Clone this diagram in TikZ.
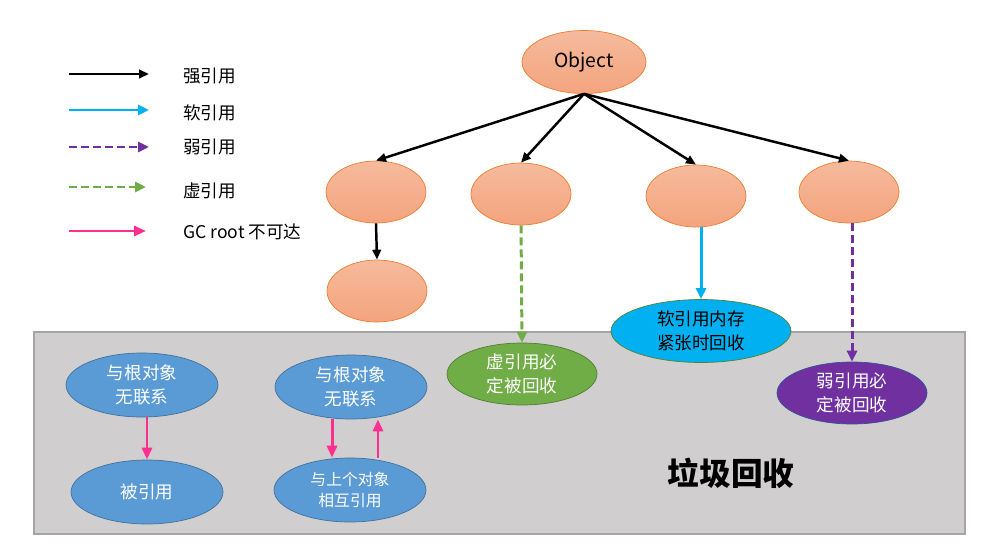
\documentclass[tikz,border=0pt]{standalone}
\usepackage{fontspec}
\setmainfont{Noto Sans CJK SC}
\usetikzlibrary{shapes.geometric,arrows.meta}

\definecolor{peachtop}{HTML}{F5BA9C}
\definecolor{peachbot}{HTML}{F4A47E}
\definecolor{peachline}{HTML}{ED7D31}
\definecolor{gcgray}{HTML}{D0CECE}
\definecolor{gcline}{HTML}{A5A5A5}
\definecolor{nodeblue}{HTML}{5B9BD5}
\definecolor{blueline}{HTML}{41719C}
\definecolor{phantomgreen}{HTML}{70AD47}
\definecolor{greenline}{HTML}{507E32}
\definecolor{softcyan}{HTML}{00B0F0}
\definecolor{cyanline}{HTML}{548235}
\definecolor{weakpurple}{HTML}{7030A0}
\definecolor{purpleline}{HTML}{2F5597}
\definecolor{gcpink}{HTML}{FF2F92}

\begin{document}
\begin{tikzpicture}[x=0.02cm,y=-0.02cm,
  objnode/.style={ellipse, draw=peachline, top color=peachtop, bottom color=peachbot, inner sep=0pt, minimum width=2cm, minimum height=1.24cm},
  gcnode/.style={ellipse, draw=blueline, fill=nodeblue, text=white, inner sep=0pt, align=center, minimum width=3.04cm, minimum height=1.28cm, font=\fontsize{10}{13.5}\selectfont},
  strong/.style={draw=black, line width=1.4pt, -{Triangle[length=0.2cm,width=0.17cm]}},
  soft/.style={draw=softcyan, line width=1.7pt, -{Triangle[length=0.22cm,width=0.2cm]}},
  weak/.style={draw=weakpurple, line width=1.7pt, dash pattern=on 0.16cm off 0.08cm, -{Triangle[length=0.22cm,width=0.2cm]}},
  phantom/.style={draw=phantomgreen, line width=1.7pt, dash pattern=on 0.16cm off 0.08cm, -{Triangle[length=0.22cm,width=0.2cm]}},
  unreach/.style={draw=gcpink, line width=1.7pt, -{Triangle[length=0.24cm,width=0.2cm]}},
  legendtext/.style={anchor=west, font=\fontsize{10}{12}\selectfont}]

\useasboundingbox (0,0) rectangle (1000,551);

% legend
\coordinate (ls1) at (69,74);  \coordinate (le1) at (149,74);
\coordinate (ls2) at (69,110); \coordinate (le2) at (149,110);
\coordinate (ls3) at (69,147); \coordinate (le3) at (149,147);
\coordinate (ls4) at (69,187); \coordinate (le4) at (146,187);
\coordinate (ls5) at (69,231); \coordinate (le5) at (146,231);

\draw [strong] (ls1) -- (le1);
\draw [soft] (ls2) -- (le2);
\draw [weak] (ls3) -- (le3);
\draw [phantom] (ls4) -- (le4);
\draw [unreach] (ls5) -- (le5);

\node (t1) at (177,76) [legendtext] {强引用};
\node (t2) at (177,113) [legendtext] {软引用};
\node (t3) at (177,147) [legendtext] {弱引用};
\node (t4) at (177,191) [legendtext] {虚引用};
\node (t5) at (177,232) [legendtext] {GC root 不可达};

% gc area
\draw [draw=gcline, fill=gcgray, line width=0.8pt] (34,332) rectangle (965,534);
\node (gc) at (731,473) [font=\fontsize{18}{20}\selectfont\bfseries] {垃圾回收};

% object tree
\node (obj) at (584,62) [objnode, minimum width=2.48cm, minimum height=1.26cm, font=\fontsize{11}{13}\selectfont] {Object};

\node (o1) at (376,192) [objnode] {};
\node (o2) at (521,194) [objnode] {};
\node (o3) at (696,196) [objnode] {};
\node (o4) at (849,192) [objnode] {};
\node (o5) at (377,291) [objnode] {};

\node (phantomgc) at (522,374) [ellipse, draw=greenline, fill=phantomgreen, text=white, inner sep=0pt, align=center, minimum width=3cm, minimum height=1.24cm, font=\fontsize{10}{13.5}\selectfont] {虚引用必\\定被回收};
\node (softgc) at (701,331) [ellipse, draw=cyanline, fill=softcyan, inner sep=0pt, align=center, minimum width=3.6cm, minimum height=1.26cm, font=\fontsize{10}{13.5}\selectfont] {软引用内存\\紧张时回收};
\node (weakgc) at (852,393) [ellipse, draw=purpleline, fill=weakpurple, text=white, inner sep=0pt, align=center, minimum width=3cm, minimum height=1.24cm, font=\fontsize{10}{13.5}\selectfont] {弱引用必\\定被回收};

\draw [strong] (obj.south) -- (o1.north);
\draw [strong] (obj.south) -- (o2.north);
\draw [strong] (obj.south) -- (o3.north);
\draw [strong] (obj.south) -- (o4.north);
\draw [strong] (o1.south) -- (o5.north);

\draw [phantom] (o2.south) -- (phantomgc.north);
\draw [soft] (o3.south -| softgc.north) -- (softgc.north);
\draw [weak] (o4.south -| weakgc.north) -- (weakgc.north);

% unreachable objects
\node (g1) at (142,385) [gcnode] {与根对象\\无联系};
\node (g2) at (147,492) [gcnode] {被引用};
\node (g3) at (351,387) [gcnode] {与根对象\\无联系};
\node (g4) at (350,490) [gcnode, font=\fontsize{9}{12.5}\selectfont] {与上个对象\\相互引用};

\draw [unreach] (g1.south -| g2.north) -- (g2.north);
\draw [unreach] ([xshift=-0.38cm]g3.south) -- ([xshift=-0.38cm]g3.south |- g4.north);
\draw [unreach] ([xshift=0.56cm]g4.north) -- ([xshift=0.56cm]g4.north |- g3.south);

\end{tikzpicture}
\end{document}
